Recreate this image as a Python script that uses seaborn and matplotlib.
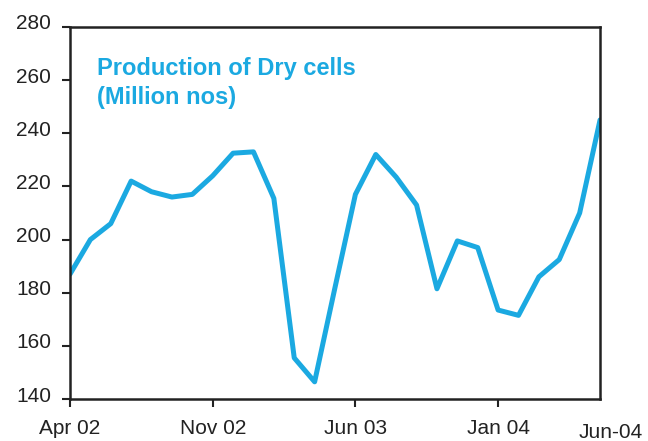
import matplotlib
matplotlib.use("Agg")
import matplotlib.pyplot as plt
import matplotlib.transforms as mtransforms
import seaborn as sns
import pandas as pd

months = ["Apr 02", "May 02", "Jun 02", "Jul 02", "Aug 02", "Sep 02", "Oct 02",
          "Nov 02", "Dec 02", "Jan 03", "Feb 03", "Mar 03", "Apr 03", "May 03",
          "Jun 03", "Jul 03", "Aug 03", "Sep 03", "Oct 03", "Nov 03", "Dec 03",
          "Jan 04", "Feb 04", "Mar 04", "Apr 04", "May 04", "Jun-04"]
production = [187, 200, 206, 222, 218, 216, 217, 224, 232.5, 233, 215.5, 155.5,
              146.5, 182, 217, 232, 223.5, 213, 181.5, 199.5, 197, 173.5, 171.5,
              186, 192.5, 210, 245]
tick_labels = ["Apr 02", "Nov 02", "Jun 03", "Jan 04"]
y_ticks = [140, 160, 180, 200, 220, 240, 260, 280]

blue = "#1ba9e1"
txt = "#222222"

sns.set_theme(style="white")
plt.rcParams["font.family"] = ["Liberation Sans", "DejaVu Sans"]

df = pd.DataFrame({"idx": range(len(months)), "month": months, "value": production})

fig = plt.figure(figsize=(6.48, 4.41), dpi=100)
ax = fig.add_axes([0.108, 0.095, 0.818, 0.844])
sns.lineplot(data=df, x="idx", y="value", color=blue, linewidth=3.6, ax=ax)

ax.set_xlim(0, len(months) - 1)
ax.set_ylim(140, 280)
ax.set_yticks(y_ticks)
ax.set_yticklabels([str(v) for v in y_ticks], fontsize=15, color=txt)
tick_pos = [months.index(t) for t in tick_labels]
ax.set_xticks(tick_pos)
ax.set_xticklabels(tick_labels, fontsize=15, color=txt)
ax.set_xlabel("")
ax.set_ylabel("")

ax.tick_params(axis="both", direction="out", length=5.5, width=1.5, color=txt,
               bottom=True, left=True)
ax.tick_params(axis="x", pad=9)
ax.tick_params(axis="y", pad=8)
up = mtransforms.ScaledTranslation(0, 0.05, fig.dpi_scale_trans)
for lab in ax.get_yticklabels():
    lab.set_transform(lab.get_transform() + up)

ax.text(len(months) - 1 + 0.5, -0.09, months[-1], transform=ax.get_xaxis_transform(),
        ha="center", va="center", fontsize=15, color=txt)

for s in ax.spines.values():
    s.set_visible(True)
    s.set_color(txt)
    s.set_linewidth(1.8)

ax.text(0.051, 0.918, "Production of Dry cells\n(Million nos)", transform=ax.transAxes,
        ha="left", va="top", fontsize=17, fontweight="bold", color=blue, linespacing=1.3)

fig.savefig("out.png", dpi=100)
